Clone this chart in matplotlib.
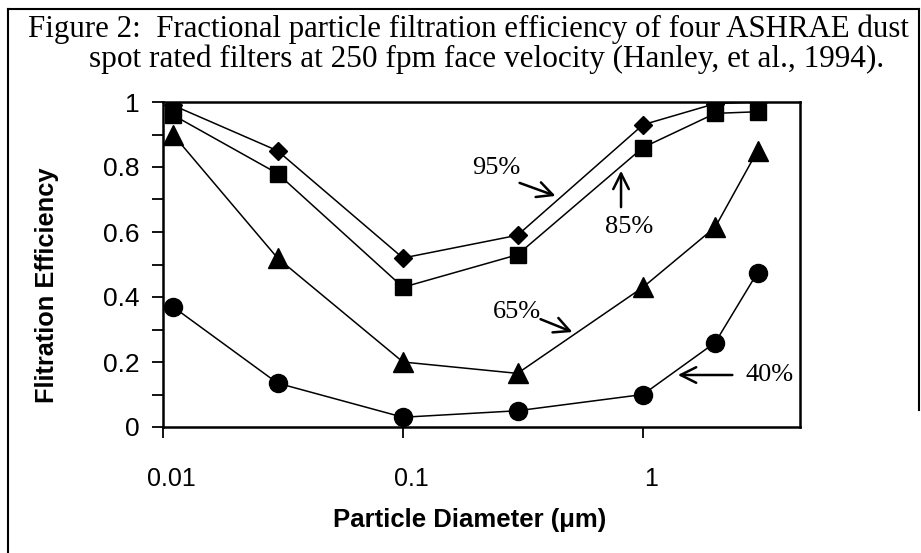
import numpy as np
import matplotlib
matplotlib.use("Agg")
import matplotlib.pyplot as plt
from matplotlib.lines import Line2D
from matplotlib.ticker import FixedLocator, MultipleLocator, NullFormatter
import matplotlib.transforms as mtransforms

# particle diameter (um) and fractional efficiency for each dust spot rating
diameter = [0.011, 0.03, 0.1, 0.3, 1.0, 2.0, 3.0]
eff_95 = [0.99, 0.85, 0.52, 0.59, 0.93, 0.995, 1.0]
eff_85 = [0.96, 0.78, 0.43, 0.53, 0.86, 0.965, 0.97]
eff_65 = [0.90, 0.52, 0.20, 0.165, 0.43, 0.615, 0.85]
eff_40 = [0.37, 0.135, 0.03, 0.05, 0.10, 0.26, 0.475]

x_ticks = [0.01, 0.1, 1]
x_ticklabels = ["0.01", "0.1", "1"]
y_ticks = [0, 0.2, 0.4, 0.6, 0.8, 1.0]
y_ticklabels = ["0", "0.2", "0.4", "0.6", "0.8", "1"]

serif = ["Liberation Serif", "DejaVu Serif"]
sans = ["Liberation Sans", "DejaVu Sans"]

fig = plt.figure(figsize=(9.21, 5.53), dpi=100)
W, H = 921, 553
ax = fig.add_axes([163 / W, 1 - 427 / H, (800 - 163) / W, (427 - 102) / H])

ax.set_xscale("log")
ax.set_xlim(0.01, 4.51)
ax.set_ylim(0, 1)

lw = 1.1
ax.plot(diameter, eff_95, color="black", lw=lw, marker="D", ms=9.5, zorder=4)
ax.plot(diameter, eff_85, color="black", lw=lw, marker="s", ms=12, zorder=4)
ax.plot(diameter, eff_65, color="black", lw=lw, marker="^", ms=14, zorder=4)
ax.plot(diameter, eff_40, color="black", lw=lw, marker="o", ms=13, zorder=4)

for s in ax.spines.values():
    s.set_linewidth(1.8)

ax.xaxis.set_major_locator(FixedLocator(x_ticks))
ax.xaxis.set_minor_locator(FixedLocator([]))
ax.set_xticklabels(x_ticklabels, family=sans, fontsize=18)
ax.xaxis.set_minor_formatter(NullFormatter())
ax.yaxis.set_minor_locator(MultipleLocator(0.1))
ax.set_yticks(y_ticks)
ax.set_yticklabels(y_ticklabels, family=sans, fontsize=19)
ax.tick_params(axis="both", which="both", direction="out", width=1.3, length=8)
ax.tick_params(axis="x", pad=21)
ax.tick_params(axis="y", pad=9)

# shift x tick labels slightly right like the scan
offset = mtransforms.ScaledTranslation(8 / 100, 0, fig.dpi_scale_trans)
for lab in ax.get_xticklabels():
    lab.set_transform(lab.get_transform() + offset)

ax.set_xlabel("Particle Diameter (\u03bcm)", family=sans, fontsize=18.5,
              fontweight="bold")
ax.xaxis.set_label_coords((470 - 163) / (800 - 163), -(520 - 427) / 325)
ax.xaxis.label.set_va("center")
ax.set_ylabel("Flitration Efficiency", family=sans, fontsize=18.3,
              fontweight="bold")
ax.yaxis.set_label_coords((47 - 163) / (800 - 163), (427 - 285) / 325)
ax.yaxis.label.set_va("center")

# annotations
arrow = dict(arrowstyle="->", color="black", lw=1.8, mutation_scale=28)
ax.text(0.244, 0.797, "95%", family=serif, fontsize=19, ha="center", va="center")
ax.annotate("", xy=(0.443, 0.708), xytext=(0.2985, 0.754), arrowprops=arrow)
ax.text(0.874, 0.615, "85%", family=serif, fontsize=19, ha="center", va="center")
ax.annotate("", xy=(0.81, 0.797), xytext=(0.81, 0.668), arrowprops=arrow)
ax.text(0.298, 0.354, "65%", family=serif, fontsize=19, ha="center", va="center")
ax.annotate("", xy=(0.521, 0.289), xytext=(0.365, 0.335), arrowprops=arrow)
ax.text(3.38, 0.16, "40%", family=serif, fontsize=19, ha="center", va="center")
ax.annotate("", xy=(1.36, 0.16), xytext=(2.42, 0.16), arrowprops=arrow)

# title
fig.text(28 / W, 1 - 37 / H, "Figure 2:  Fractional particle filtration efficiency of four ASHRAE dust",
         family=serif, fontsize=22.2, ha="left", va="baseline")
fig.text(487 / W, 1 - 67 / H, "spot rated filters at 250 fpm face velocity (Hanley, et al., 1994).",
         family=serif, fontsize=22.5, ha="center", va="baseline")

# outer frame of the scanned figure
def frame_line(xs, ys):
    fig.add_artist(Line2D([x / W for x in xs], [1 - y / H for y in ys],
                          transform=fig.transFigure, color="black", lw=1.5))

frame_line([8, 919], [9, 9])
frame_line([8, 8], [9, 553])
frame_line([919, 919], [9, 410])

fig.savefig("out.png", dpi=100)
